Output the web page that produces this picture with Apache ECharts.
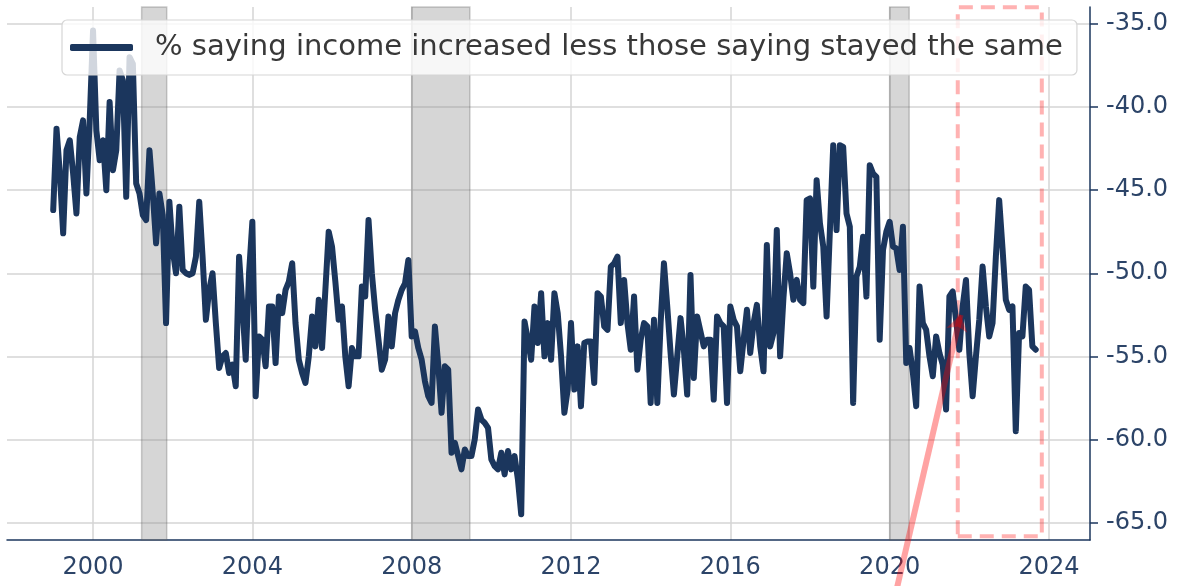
<!DOCTYPE html>
<html lang="en">
<head>
  <meta charset="UTF-8">
  <script src="https://cdn.jsdelivr.net/npm/echarts@6/dist/echarts.min.js"></script>
  <title>income increased less stayed the same</title>
  <style>html, body {margin: 0; background: #fff;}</style>
</head>
<body>
<div id="chart" style="width: 1185px; height: 586px;"></div>
<script type="text/javascript">
  // monthly readings, one row per year, Jan 1999 .. Sep 2023
  let startYear = 1999;
  let values = [
    -46.2, -41.3, -44.0, -47.6, -42.6, -42.0, -44.0, -46.4, -41.8, -40.8, -45.2, -40.8, // 1999
    -35.4, -41.4, -43.2, -42.0, -45.0, -39.7, -43.8, -42.6, -37.8, -38.4, -45.4, -37.0, // 2000
    -37.4, -44.6, -45.2, -46.5, -46.8, -42.6, -45.2, -48.2, -45.2, -46.5, -53.0, -45.7, // 2001
    -48.6, -50.0, -46.0, -49.8, -50.0, -50.1, -50.0, -49.0, -45.7, -49.0, -52.8, -51.0, // 2002
    -50.0, -53.0, -55.7, -55.0, -54.8, -56.0, -55.5, -56.8, -49.0, -52.0, -55.2, -50.0, // 2003
    -46.9, -57.4, -53.8, -54.0, -55.6, -52.0, -52.0, -55.4, -51.4, -52.4, -51.0, -50.5, // 2004
    -49.4, -53.0, -55.2, -56.0, -56.6, -55.0, -52.6, -54.4, -51.6, -54.5, -51.0, -47.5, // 2005
    -48.4, -50.5, -52.8, -52.0, -55.0, -56.8, -54.5, -55.0, -55.0, -50.8, -51.4, -46.8, // 2006
    -50.0, -52.2, -54.0, -55.8, -55.2, -52.6, -54.4, -52.4, -51.6, -51.0, -50.6, -49.2, // 2007
    -53.8, -53.5, -54.5, -55.2, -56.5, -57.4, -57.8, -53.2, -55.5, -58.4, -55.6, -55.8, // 2008
    -60.8, -60.2, -61.0, -61.8, -60.6, -61.0, -61.0, -60.0, -58.2, -58.8, -59.0, -59.3, // 2009
    -61.2, -61.6, -61.8, -60.8, -62.1, -60.7, -61.8, -61.0, -62.4, -64.5, -52.9, -54.0, // 2010
    -55.2, -52.0, -54.2, -51.2, -55.0, -53.0, -55.2, -51.2, -52.4, -55.0, -58.4, -57.0, // 2011
    -53.0, -57.0, -54.4, -58.0, -54.2, -54.1, -54.1, -56.6, -51.2, -51.4, -53.2, -53.4, // 2012
    -49.6, -49.4, -49.0, -53.0, -50.4, -53.0, -54.6, -51.4, -55.8, -54.0, -53.0, -53.2, // 2013
    -57.8, -52.8, -57.8, -53.0, -49.4, -52.0, -54.8, -57.3, -55.0, -52.7, -54.6, -57.3, // 2014
    -50.1, -56.3, -52.6, -53.5, -54.4, -54.0, -54.0, -57.6, -52.6, -53.0, -53.2, -57.8, // 2015
    -52.0, -52.8, -53.2, -55.9, -54.0, -52.2, -54.8, -53.0, -51.9, -54.4, -55.9, -48.3, // 2016
    -54.4, -53.6, -47.4, -55.0, -51.5, -48.8, -50.0, -51.6, -50.4, -51.6, -51.8, -45.6, // 2017
    -45.5, -50.8, -44.4, -47.0, -48.4, -52.6, -47.4, -42.3, -47.4, -42.3, -42.4, -46.4, // 2018
    -47.2, -57.8, -50.2, -49.6, -47.8, -51.4, -43.5, -44.0, -44.2, -54.0, -48.6, -47.5, // 2019
    -46.9, -48.4, -48.5, -49.8, -47.2, -55.4, -54.5, -56.0, -58.0, -50.8, -53.0, -53.4, // 2020
    -55.0, -56.2, -53.8, -54.8, -55.5, -58.2, -51.4, -51.1, -52.8, -54.6, -52.0, -50.4, // 2021
    -54.8, -57.4, -55.0, -52.8, -49.6, -52.0, -53.8, -53.0, -49.0, -45.6, -48.5, -51.6, // 2022
    -52.2, -52.0, -59.5, -53.6, -53.8, -50.8, -51.0, -54.4, -54.6                       // 2023
  ];
  let seriesName  = "% saying income increased less those saying stayed the same";
  let recessions  = [[2001.22, 2001.85], [2008.0, 2009.46], [2020.0, 2020.49]];
  let xTicks      = [2000, 2004, 2008, 2012, 2016, 2020, 2024];
  let yTicks      = [-65, -60, -55, -50, -45, -40, -35];
  let highlightBox = [[2021.71, -65.83], [2023.82, -34.0]];
  let arrowFrom   = [2020.08, -70.0];
  let arrowTo     = [2021.78, -52.5];

  const navy = '#1b365d';
  const tickColor = '#2c4468';

  function main() {
    let chart = echarts.init(document.getElementById('chart'));
    let points = values.map(function (v, i) { return [startYear + i / 12, v]; });

    chart.setOption({
      animation: false,
      grid: {left: 7, right: 95, top: 7, bottom: 46},
      legend: {
        data: [seriesName],
        left: 62,
        top: 20,
        padding: [12, 14, 12, 8],
        icon: 'roundRect',
        itemWidth: 63,
        itemHeight: 7,
        backgroundColor: 'rgba(255,255,255,0.8)',
        borderColor: '#d6d6d6',
        borderWidth: 1.2,
        borderRadius: 5,
        textStyle: {
          fontFamily: 'DejaVu Sans',
          fontSize: 29,
          lineHeight: 31,
          color: '#383838',
          padding: [0, 0, 0, 17]
        }
      },
      xAxis: {
        type: 'value',
        min: 1997.84,
        max: 2025.03,
        axisLine: {show: true, lineStyle: {color: navy, width: 1.5}},
        axisTick: {show: false, customValues: xTicks},
        axisLabel: {
          customValues: xTicks,
          color: tickColor,
          fontFamily: 'DejaVu Sans',
          fontSize: 24,
          margin: 16,
          formatter: function (v) { return String(v); }
        },
        splitLine: {show: true, lineStyle: {color: '#d4d4d4', width: 1.5}}
      },
      yAxis: {
        type: 'value',
        position: 'right',
        min: -66.05,
        max: -33.98,
        axisLine: {show: true, lineStyle: {color: navy, width: 1.5}},
        axisTick: {show: true, customValues: yTicks, length: 8, lineStyle: {color: navy, width: 1.5}},
        axisLabel: {
          customValues: yTicks,
          color: tickColor,
          fontFamily: 'DejaVu Sans',
          fontSize: 24,
          margin: 16,
          formatter: function (v) { return v.toFixed(1); }
        },
        splitLine: {show: true, lineStyle: {color: '#d4d4d4', width: 1.5}}
      },
      series: [
        {
          name: 'recessions',
          type: 'line',
          data: [],
          z: 1,
          markArea: {
            silent: true,
            itemStyle: {color: 'rgba(128,128,128,0.32)', borderColor: 'rgba(90,90,90,0.3)', borderWidth: 1.5},
            data: recessions.map(function (r) { return [{xAxis: r[0]}, {xAxis: r[1]}]; })
          }
        },
        {
          name: seriesName,
          type: 'line',
          data: points,
          z: 3,
          showSymbol: false,
          symbol: 'none',
          itemStyle: {color: navy},
          lineStyle: {color: navy, width: 6, cap: 'round', join: 'round'}
        },
        {
          name: 'box',
          type: 'line',
          data: [],
          z: 4,
          markArea: {
            silent: true,
            itemStyle: {
              color: 'rgba(0,0,0,0)',
              borderColor: 'rgba(255,0,0,0.3)',
              borderWidth: 4,
              borderType: [14, 8]
            },
            data: [[{coord: highlightBox[0]}, {coord: highlightBox[1]}]]
          }
        },
        {
          name: 'arrow',
          type: 'lines',
          coordinateSystem: 'cartesian2d',
          z: 5,
          clip: false,
          silent: true,
          symbol: ['none', 'arrow'],
          symbolSize: 16,
          lineStyle: {color: 'rgba(255,0,0,0.36)', width: 6, opacity: 1},
          data: [{coords: [arrowFrom, arrowTo]}]
        }
      ]
    });
  }

  main();
</script>
</body>
</html>
